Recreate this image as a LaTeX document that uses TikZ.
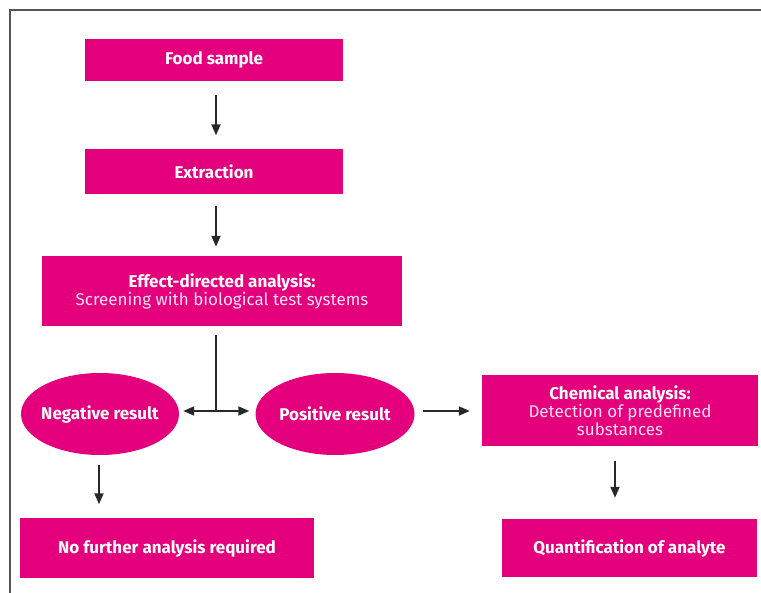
\documentclass[tikz,border=0pt]{standalone}
\usepackage{fontspec}
\setmainfont{Fira Sans}
\usepackage{tikz}
\usetikzlibrary{shapes.geometric,arrows.meta}
\definecolor{magenta}{RGB}{228,0,124}
\definecolor{arrowgray}{RGB}{40,40,40}
\definecolor{framegray}{RGB}{85,85,85}
\newcommand{\subline}[1]{{\fontsize{17}{17}\selectfont\mdseries\color{white!88!magenta}#1}}
\tikzset{
  stepbox/.style={fill=magenta, text=white, font=\fontsize{17}{18}\selectfont\bfseries,
    inner sep=0pt, align=center},
  resultoval/.style={stepbox, ellipse, inner xsep=-14pt},
  arr/.style={-{Triangle[length=11pt,width=9pt]}, line width=1.8pt, draw=arrowgray},
}
\begin{document}
\begin{tikzpicture}[x=1pt,y=-1pt]
\useasboundingbox (0,0) rectangle (761,593);
%frame
\draw [framegray, line width=2pt] (10,593) -- (10,10) -- (761,10);
% boxes
\node (food) [stepbox, minimum width=258, minimum height=42] at (214,60) {Food sample};
\node (extr) [stepbox, minimum width=258, minimum height=45] at (214,172) {Extraction};
\node (eda) [stepbox, minimum width=360, minimum height=70] at (222,291)
  {Effect-directed analysis:\\ \subline{Screening with biological test systems}};
\node (neg) [resultoval, minimum width=158, minimum height=82] at (100,414) {Negative result};
\node (pos) [resultoval, minimum width=159, minimum height=82] at (335,414) {Positive result};
\node (chem) [stepbox, minimum width=276, minimum height=71] at (620,411)
  {Chemical analysis:\\ \subline{Detection of predefined}\\ \subline{substances}};
\node (none) [stepbox, minimum width=294, minimum height=59] at (167,548) {No further analysis required};
\node (quant) [stepbox, minimum width=255, minimum height=58] at (629.5,548) {Quantification of analyte};
% connectors
\coordinate (fork) at (216,411);
\draw [arr, shorten <=14pt, shorten >=14pt] ([xshift=2]food.south) -- ([xshift=2]extr.north);
\draw [arr, shorten <=11pt, shorten >=9pt] ([xshift=2]extr.south) -- (eda.north -| fork);
\draw [line width=1.8pt, draw=arrowgray, shorten <=9pt] (eda.south -| fork) -- (fork);
\draw [arr, shorten >=4pt] (fork) -- (neg.east |- fork);
\draw [arr, shorten >=6pt] (fork) -- (pos.west |- fork);
\draw [arr, shorten <=8pt, shorten >=12pt] (pos.east |- fork) -- (chem.west |- fork);
\draw [arr, shorten <=10pt, shorten >=14pt] ([xshift=-1]neg.south) -- ([xshift=-68]none.north);
\draw [arr, shorten <=14pt, shorten >=21pt] ([xshift=-5]chem.south) -- ([xshift=-14.5]quant.north);
\end{tikzpicture}
\end{document}
